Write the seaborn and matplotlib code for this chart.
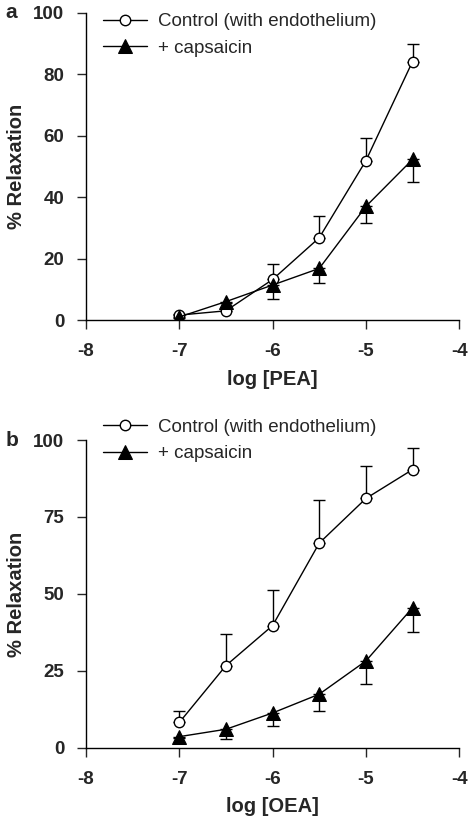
import numpy as np
import pandas as pd
import seaborn as sns
import matplotlib
matplotlib.use("Agg")
import matplotlib.pyplot as plt

# log concentrations
log_conc = [-7.0, -6.5, -6.0, -5.5, -5.0, -4.5]

# panel a: PEA
pea_control = [1.6, 3.0, 13.2, 26.8, 51.9, 84.2]
pea_control_err = [0.5, 0.5, 4.9, 7.2, 7.5, 5.8]
pea_caps = [1.0, 6.0, 11.4, 16.8, 37.0, 52.3]
pea_caps_err = [0.5, 0.5, 4.7, 4.8, 5.3, 7.3]

# panel b: OEA
oea_control = [8.2, 26.7, 39.7, 66.5, 81.0, 90.4]
oea_control_err = [3.6, 10.2, 11.6, 14.0, 10.5, 7.0]
oea_caps = [3.6, 6.0, 11.3, 17.4, 28.2, 45.5]
oea_caps_err = [0.5, 3.1, 4.2, 5.5, 7.4, 8.0]

labels = ["Control (with endothelium)", "+ capsaicin"]

sns.set_style("ticks")
plt.rcParams['font.family'] = ['Liberation Sans', 'DejaVu Sans']

fig = plt.figure(figsize=(4.7, 8.17), dpi=100)
ax_a = fig.add_axes([0.183, 0.6083, 0.794, 0.3758])
ax_b = fig.add_axes([0.183, 0.0848, 0.794, 0.3766])


def draw_panel(ax, ctrl, ctrl_err, caps, caps_err, yticks, xlabel, letter, leg_y):
    df = pd.DataFrame({"x": log_conc, "ctrl": ctrl, "caps": caps})
    # upper error bars for control, lower for capsaicin
    ax.errorbar(log_conc, ctrl, yerr=[np.zeros(len(ctrl)), ctrl_err], fmt='none',
                ecolor='black', elinewidth=1, capsize=4, capthick=1, zorder=1)
    ax.errorbar(log_conc, caps, yerr=[caps_err, np.zeros(len(caps))], fmt='none',
                ecolor='black', elinewidth=1, capsize=4, capthick=1, zorder=1)
    sns.lineplot(data=df, x="x", y="ctrl", ax=ax, color='black', lw=1,
                 marker='o', markersize=7.5, markerfacecolor='white',
                 markeredgecolor='black', markeredgewidth=1, label=labels[0], zorder=3)
    sns.lineplot(data=df, x="x", y="caps", ax=ax, color='black', lw=1,
                 marker='^', markersize=9.5, markerfacecolor='black',
                 markeredgecolor='black', label=labels[1], zorder=4)

    ax.set_xlim(-8, -4)
    ax.set_ylim(0, 100)
    ax.set_xticks([-8, -7, -6, -5, -4])
    ax.set_xticklabels(["-8", "-7", "-6", "-5", "-4"])
    ax.set_yticks(yticks)
    ax.tick_params(direction='out', length=6.5, width=1, labelsize=13.5)
    ax.tick_params(axis='x', pad=10)
    ax.tick_params(axis='y', pad=9)
    for t in ax.get_xticklabels() + ax.get_yticklabels():
        t.set_fontweight('bold')
    sns.despine(ax=ax)
    for s in ['left', 'bottom']:
        ax.spines[s].set_linewidth(1)
        ax.spines[s].set_color('black')
    ax.set_xlabel(xlabel, fontsize=14.5, fontweight='bold', labelpad=7)
    ax.set_ylabel("% Relaxation", fontsize=14.5, fontweight='bold', labelpad=5)
    ax.text(-0.215, 1.0, letter, transform=ax.transAxes, fontsize=15,
            fontweight='bold', ha='left', va='center')
    ax.legend(loc='upper left', bbox_to_anchor=(0.046, leg_y), frameon=False,
              fontsize=13.5, handlelength=2.35, handletextpad=0.6,
              labelspacing=0.5, borderpad=0, borderaxespad=0)


draw_panel(ax_a, pea_control, pea_control_err, pea_caps, pea_caps_err,
           [0, 20, 40, 60, 80, 100], "log [PEA]", "a", 1.0)
draw_panel(ax_b, oea_control, oea_control_err, oea_caps, oea_caps_err,
           [0, 25, 50, 75, 100], "log [OEA]", "b", 1.07)

fig.savefig("out.png", dpi=100)
